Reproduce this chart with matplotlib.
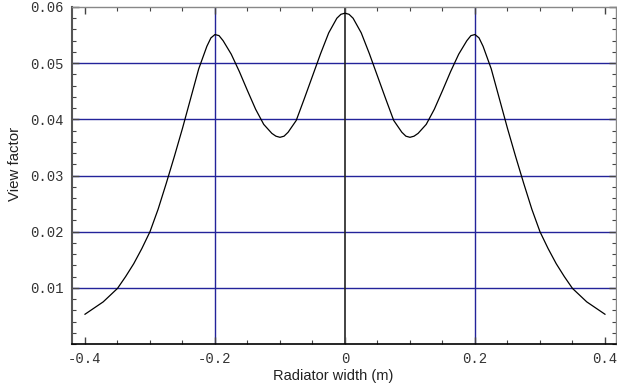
import matplotlib.pyplot as plt
from matplotlib.ticker import MultipleLocator

# view factor across the radiator width
width_m = [-0.4, -0.372, -0.35, -0.3375, -0.325, -0.3125, -0.3, -0.2875, -0.275, -0.2625,
           -0.25, -0.2375, -0.225, -0.2125, -0.20625, -0.2, -0.19375, -0.1875, -0.175, -0.1625,
           -0.15, -0.1375, -0.125, -0.1125, -0.10625, -0.1, -0.09375, -0.0875, -0.075, -0.0625,
           -0.05, -0.0375, -0.025, -0.0125, -0.00625, 0.0, 0.00625, 0.0125, 0.025, 0.0375,
           0.05, 0.0625, 0.075, 0.0875, 0.09375, 0.1, 0.10625, 0.1125, 0.125, 0.1375,
           0.15, 0.1625, 0.175, 0.1875, 0.19375, 0.2, 0.20625, 0.2125, 0.225, 0.2375,
           0.25, 0.2625, 0.275, 0.2875, 0.3, 0.3125, 0.325, 0.3375, 0.35, 0.372, 0.4]
view_factor = [0.0053, 0.0075, 0.0099, 0.0120, 0.0143, 0.0170, 0.0200, 0.0240, 0.0286, 0.0334,
               0.0384, 0.0437, 0.0490, 0.0530, 0.0545, 0.0551, 0.0549, 0.0540, 0.0516, 0.0485,
               0.0451, 0.0418, 0.0391, 0.0375, 0.0370, 0.0368, 0.0370, 0.0377, 0.0398, 0.0437,
               0.0477, 0.0517, 0.0554, 0.0580, 0.0587, 0.0589, 0.0587, 0.0580, 0.0554, 0.0517,
               0.0477, 0.0437, 0.0398, 0.0377, 0.0370, 0.0368, 0.0370, 0.0375, 0.0391, 0.0418,
               0.0451, 0.0485, 0.0516, 0.0540, 0.0549, 0.0551, 0.0545, 0.0530, 0.0490, 0.0437,
               0.0384, 0.0334, 0.0286, 0.0240, 0.0200, 0.0170, 0.0143, 0.0120, 0.0099, 0.0075, 0.0053]

grid_x = [-0.2, 0.2]
grid_y = [0.01, 0.02, 0.03, 0.04, 0.05]
xticks = [-0.4, -0.2, 0, 0.2, 0.4]
yticks = [0.01, 0.02, 0.03, 0.04, 0.05, 0.06]

fig = plt.figure(figsize=(6.17, 3.89), dpi=100)
ax = fig.add_axes([72 / 617, 45 / 389, 544 / 617, 337 / 389])

navy = '#23239a'
for gy in grid_y:
    ax.axhline(gy, color=navy, lw=1.0, zorder=1)
for gx in grid_x:
    ax.axvline(gx, color=navy, lw=1.0, zorder=1)
ax.axvline(0, color='#222222', lw=1.2, zorder=1)

ax.plot(width_m, view_factor, color='black', lw=0.9, zorder=3)

ax.set_xlim(-0.42, 0.417)
ax.set_ylim(0, 0.06)

ax.set_xticks(xticks)
ax.set_xticklabels(['-0.4', '-0.2', '0', '0.2', '0.4'])
ax.set_yticks(yticks)
ax.set_yticklabels(['0.01', '0.02', '0.03', '0.04', '0.05', '0.06'])
ax.xaxis.set_minor_locator(MultipleLocator(0.05))
ax.yaxis.set_minor_locator(MultipleLocator(0.002))

mono = ['Liberation Mono', 'DejaVu Sans Mono']
for lab in ax.get_xticklabels() + ax.get_yticklabels():
    lab.set_family(mono)
    lab.set_fontsize(10)
    lab.set_color('#333333')

ax.tick_params(which='both', direction='in', top=True, right=True, color='#444444')
ax.tick_params(which='major', length=5, width=1, pad=6)
ax.tick_params(which='minor', length=3, width=0.8)

for side in ['top', 'right']:
    ax.spines[side].set_color('#888888')
    ax.spines[side].set_linewidth(1.0)
ax.spines['left'].set_color('#555555')
ax.spines['left'].set_linewidth(1.5)
ax.spines['bottom'].set_color('black')
ax.spines['bottom'].set_linewidth(1.2)

ax.set_xlabel('Radiator width (m)', family='Liberation Sans', fontsize=10.5, color='#222222')
ax.set_ylabel('View factor', family='Liberation Sans', fontsize=10.8, color='#222222')
ax.xaxis.set_label_coords(0.48, -0.074)
ax.yaxis.set_label_coords(-0.092, 0.535)

fig.savefig('out.png', dpi=100)
